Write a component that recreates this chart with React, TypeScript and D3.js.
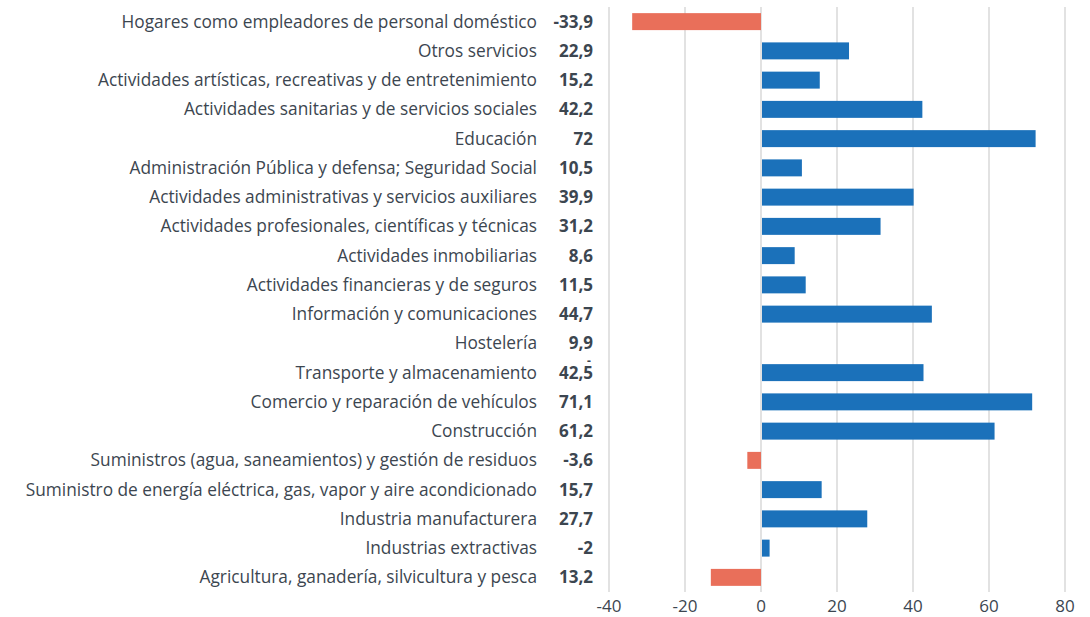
import React from "react";
import * as d3 from "d3";

const categories = [
  "Hogares como empleadores de personal doméstico",
  "Otros servicios",
  "Actividades artísticas, recreativas y de entretenimiento",
  "Actividades sanitarias y de servicios sociales",
  "Educación",
  "Administración Pública y defensa; Seguridad Social",
  "Actividades administrativas y servicios auxiliares",
  "Actividades profesionales, científicas y técnicas",
  "Actividades inmobiliarias",
  "Actividades financieras y de seguros",
  "Información y comunicaciones",
  "Hostelería",
  "Transporte y almacenamiento",
  "Comercio y reparación de vehículos",
  "Construcción",
  "Suministros (agua, saneamientos) y gestión de residuos",
  "Suministro de energía eléctrica, gas, vapor y aire acondicionado",
  "Industria manufacturera",
  "Industrias extractivas",
  "Agricultura, ganadería, silvicultura y pesca",
];

const valueLabels = [
  "-33,9", "22,9", "15,2", "42,2", "72", "10,5", "39,9", "31,2", "8,6", "11,5",
  "44,7", "9,9", "42,5", "71,1", "61,2", "-3,6", "15,7", "27,7", "-2", "13,2",
];

const barValues: (number | null)[] = [
  -33.9, 22.9, 15.2, 42.2, 72, 10.5, 39.9, 31.2, 8.6, 11.5,
  44.7, null, 42.5, 71.1, 61.2, -3.6, 15.7, 27.7, 2, -13.2,
];

const xTicks = [-40, -20, 0, 20, 40, 60, 80];

const BLUE = "#1B71BA";
const RED = "#E96F5A";
const TEXT = "#3C4650";
const FONT = "'Open Sans', 'Noto Sans', sans-serif";

export default function App() {
  const width = 1090;
  const height = 617;
  const x = d3.scaleLinear().domain([-40, 80]).range([609, 1065]);
  const y = d3.scaleBand<string>().domain(categories).range([7, 592]).paddingInner(0.42).paddingOuter(0.21);
  const step = y.step();

  return (
    <svg
      width={width}
      height={height}
      style={{ position: "absolute", left: 0, top: 0, background: "#fff" }}
      fontFamily={FONT}
    >
      {xTicks.map((t) => (
        <line key={"g" + t} x1={x(t)} x2={x(t)} y1={7} y2={592} stroke="#D9D9D9" strokeWidth={1.5} />
      ))}
      {categories.map((c, i) => {
        const v = barValues[i];
        const yy = y(c)!;
        const cy = yy + y.bandwidth() / 2;
        return (
          <g key={c}>
            {v !== null && (
              <rect
                x={v >= 0 ? x(0) + 1 : x(v)}
                y={yy}
                width={Math.abs(x(v) - x(0))}
                height={y.bandwidth()}
                fill={v >= 0 ? BLUE : RED}
              />
            )}
            <text x={537} y={cy} dy="0.35em" textAnchor="end" fontSize={17.3} fill={TEXT}>
              {c}
            </text>
            <text x={593} y={cy} dy="0.35em" textAnchor="end" fontSize={17} fontWeight={700} fill={TEXT}>
              {valueLabels[i]}
            </text>
          </g>
        );
      })}
      <text x={589} y={y(categories[12])! + y.bandwidth() / 2 - step / 2 + 3} dy="0.35em" textAnchor="middle" fontSize={12} fontWeight={700} fill={TEXT}>
        -
      </text>
      {xTicks.map((t) => (
        <text key={"t" + t} x={x(t)} y={606} dy="0.35em" textAnchor="middle" fontSize={17} fill={TEXT}>
          {t}
        </text>
      ))}
    </svg>
  );
}
